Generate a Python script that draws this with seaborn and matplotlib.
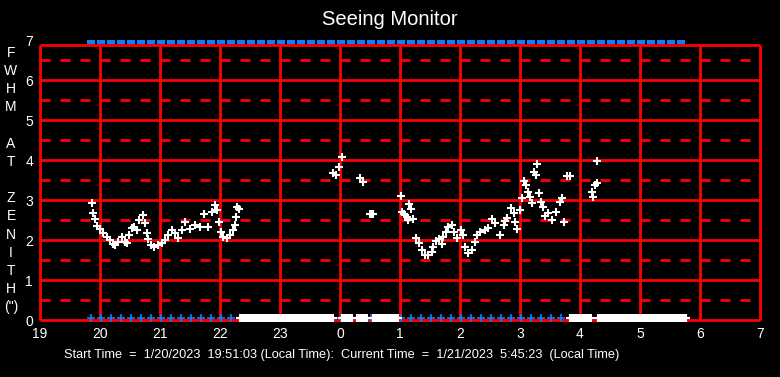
import numpy as np
import pandas as pd
import matplotlib
matplotlib.use("Agg")
import matplotlib.pyplot as plt
import seaborn as sns

# Seeing measurements (hours; values after midnight are stored as 24+)
seeing_hours = [
    19.872, 19.888, 19.917, 19.955, 20.0, 20.055, 20.112, 20.167, 20.222, 20.25,
    20.305, 20.362, 20.417, 20.445, 20.488, 20.528, 20.567, 20.612, 20.655, 20.712,
    20.75, 20.778, 20.805, 20.845, 20.9, 20.972, 21.028, 21.083, 21.138, 21.195,
    21.25, 21.305, 21.362, 21.417, 21.5, 21.583, 21.667, 21.733, 21.805, 21.862,
    21.917, 21.955, 21.988, 22.012, 22.055, 22.112, 22.167, 22.222, 22.25, 22.267,
    22.288, 22.322,
    23.888, 23.933, 23.988, 24.028, 24.333, 24.378, 24.5, 24.528, 24.55,
    25.012, 25.028, 25.067, 25.083, 25.112, 25.138, 25.155, 25.178, 25.212, 25.267,
    25.322, 25.362, 25.417, 25.472, 25.528, 25.555, 25.6, 25.655, 25.695, 25.722,
    25.767, 25.805, 25.862, 25.9, 25.955, 26.012, 26.045, 26.083, 26.138, 26.195,
    26.25, 26.288, 26.333, 26.417, 26.472, 26.528, 26.583, 26.667, 26.733, 26.75,
    26.778, 26.845, 26.9, 26.917, 26.942, 27.005, 27.028, 27.062, 27.1, 27.13,
    27.167, 27.205, 27.238, 27.267, 27.288, 27.322, 27.345, 27.378, 27.417, 27.472,
    27.528, 27.6, 27.667, 27.705, 27.733, 27.778, 27.833,
    28.195, 28.212, 28.25, 28.278, 28.288,
]
seeing_fwhm = [
    2.92, 2.68, 2.52, 2.35, 2.27, 2.17, 2.07, 2.0, 1.9, 1.87,
    1.96, 2.07, 1.96, 1.92, 2.12, 2.29, 2.32, 2.25, 2.5, 2.62,
    2.42, 2.17, 2.02, 1.87, 1.82, 1.87, 1.92, 2.0, 2.12, 2.25,
    2.17, 2.04, 2.25, 2.46, 2.27, 2.37, 2.32, 2.65, 2.32, 2.71,
    2.87, 2.75, 2.46, 2.21, 2.07, 2.04, 2.12, 2.25, 2.37, 2.58,
    2.83, 2.77,
    3.67, 3.62, 3.82, 4.07, 3.54, 3.46, 2.65, 2.64, 2.64,
    3.1, 2.71, 2.65, 2.62, 2.57, 2.5, 2.89, 2.77, 2.52, 2.04,
    1.92, 1.75, 1.62, 1.62, 1.71, 1.83, 1.98, 2.02, 1.9, 2.08,
    2.21, 2.32, 2.37, 2.21, 2.04, 2.25, 2.12, 1.83, 1.68, 1.75,
    1.96, 2.12, 2.21, 2.25, 2.29, 2.52, 2.42, 2.12, 2.37, 2.48,
    2.54, 2.8, 2.68, 2.46, 2.28, 2.75, 3.05, 3.48, 3.37, 3.21,
    3.08, 2.92, 3.71, 3.62, 3.89, 3.17, 2.96, 2.82, 2.6, 2.68,
    2.5, 2.71, 2.96, 3.04, 2.46, 3.6, 3.6,
    3.21, 3.07, 3.37, 3.43, 3.98,
]

# status rows
session_start = 19 + 51 / 60
session_end = 29 + 45 / 60
sample_step = 10 / 60
no_data_spans = [(22.33, 23.88), (24.03, 24.22), (24.28, 24.47), (24.55, 25.0),
                 (27.84, 28.2), (28.3, 29.78)]

x_ticks = list(range(19, 32))
x_labels = ["19", "20", "21", "22", "23", "0", "1", "2", "3", "4", "5", "6", "7"]
y_ticks = list(range(0, 8))

RED = "#ff0000"
BLUE = "#0a7fff"

sns.set_style("dark", {"axes.facecolor": "black", "figure.facecolor": "black"})
plt.rcParams["font.family"] = ["Liberation Sans", "DejaVu Sans"]

fig = plt.figure(figsize=(7.8, 3.77), dpi=100)
ax = fig.add_axes([40 / 780, 57 / 377, 720 / 780, 280 / 377])
ax.set_facecolor("black")

top = 6.875
# grid
for y in range(1, 7):
    ax.hlines(y, 19, 31, color=RED, lw=2, zorder=1)
for y in np.arange(0.5, 7, 1.0):
    ax.hlines(y, 19, 31, color=RED, lw=2, linestyles=(0, (3.6, 3.6)), zorder=1)
ax.hlines([0, top], 19, 31, color=RED, lw=2, zorder=1, clip_on=False)
ax.vlines(x_ticks, 0, top, color=RED, lw=2, zorder=1, clip_on=False)

samples = np.arange(session_start, session_end + 0.01, sample_step)
nodata = np.concatenate([np.arange(a, b, 0.025) for a, b in no_data_spans])

status = pd.DataFrame({"t": samples})
sns.scatterplot(data=status, x="t", y=np.full(len(samples), 0.05), marker="+",
                color=BLUE, s=30, linewidth=1.2, ax=ax, zorder=3, clip_on=False)
sns.scatterplot(x=nodata, y=np.full(len(nodata), 0.05), marker="+", color="white",
                s=30, linewidth=1.5, ax=ax, zorder=4, clip_on=False)
rect = [(-1, -0.56), (1, -0.56), (1, 0.56), (-1, 0.56)]
sns.scatterplot(data=status, x="t", y=np.full(len(samples), 6.95), marker=rect,
                color=BLUE, s=38, linewidth=0, ax=ax, zorder=4, clip_on=False)

seeing = pd.DataFrame({"hour": seeing_hours, "fwhm": seeing_fwhm})
sns.scatterplot(data=seeing, x="hour", y="fwhm", marker="+", color="white",
                s=32, linewidth=1.5, ax=ax, zorder=5)

ax.set_xlim(19, 31)
ax.set_ylim(0, 7)
ax.set_xticks(x_ticks)
ax.set_xticklabels(x_labels)
ax.set_yticks(y_ticks)
ax.tick_params(length=0, colors="white", labelsize=10)
ax.tick_params(axis="x", pad=5)
ax.tick_params(axis="y", pad=5)
ax.set_xlabel("")
ax.set_ylabel("")
ax.grid(False)
for s in ax.spines.values():
    s.set_visible(False)

fig.text(0.5, 0.947, "Seeing Monitor", color="white", fontsize=14.5,
         ha="center", va="center")
fig.text(11 / 780, 1 - 180 / 377,
         "F\nW\nH\nM\n\nA\nT\n\nZ\nE\nN\nI\nT\nH\n(\")",
         color="white", fontsize=10, ha="center", va="center",
         linespacing=1.38, multialignment="center")
fig.text(342 / 780, 1 - 355 / 377,
         "Start Time  =  1/20/2023  19:51:03 (Local Time):  Current Time  =  "
         "1/21/2023  5:45:23  (Local Time)",
         color="white", fontsize=9.2, ha="center", va="center")

fig.savefig("out.png", dpi=100, facecolor="black")
